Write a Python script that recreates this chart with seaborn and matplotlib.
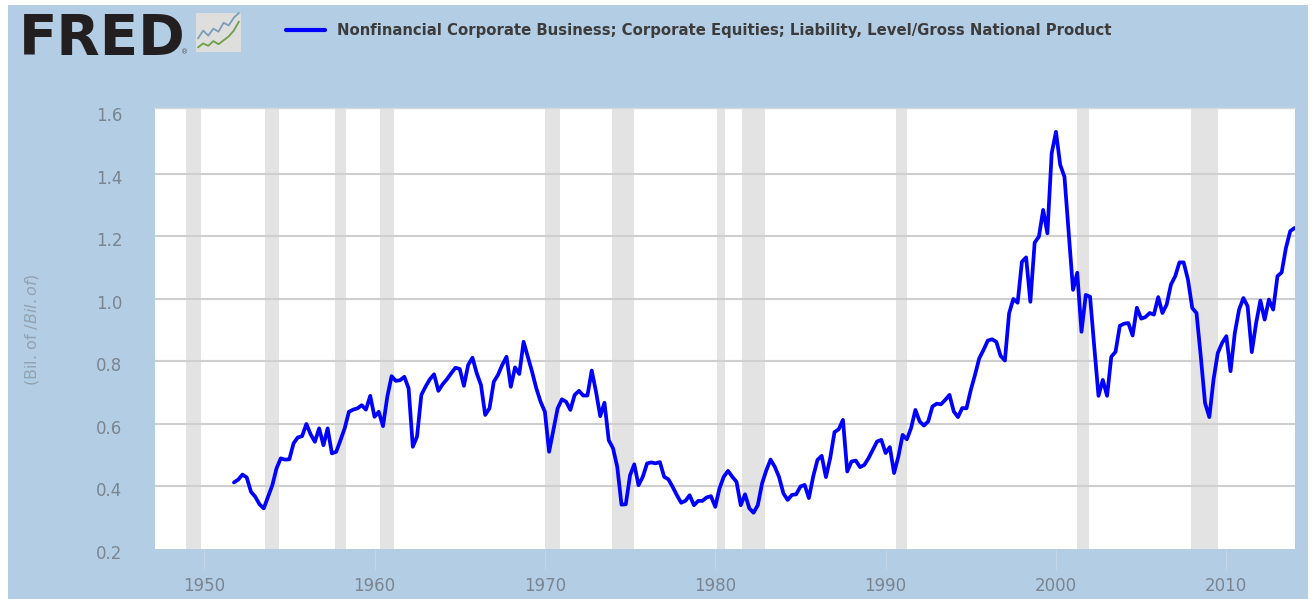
import pandas as pd
import seaborn as sns
import matplotlib.pyplot as plt
import matplotlib.dates as mdates
from matplotlib.patches import Rectangle, FancyBboxPatch
from matplotlib.transforms import ScaledTranslation

W, H = 1312, 599
PANEL = '#B3CDE5'
SHADE = '#E3E3E3'
GRID = '#CFCFCF'
TICK_TEXT = '#7A8590'

SERIES_NAME = 'Nonfinancial Corporate Business; Corporate Equities; Liability, Level/Gross National Product'
Y_LABEL = '(Bil. of $/Bil. of $)'
FIRST_QUARTER = '1951-10-01'

ratio = [
    .413, .422, .438, .429, .383, .367, .343, .330, .367, .404,
    .458, .490, .486, .487, .538, .557, .561, .600, .567, .543,
    .586, .532, .586, .506, .511, .548, .586, .639, .646, .650,
    .660, .646, .690, .623, .639, .593, .687, .753, .738, .740,
    .751, .714, .527, .560, .693, .720, .743, .759, .706, .727,
    .743, .762, .780, .776, .722, .789, .812, .762, .725, .629,
    .650, .735, .757, .789, .815, .719, .781, .760, .863, .815,
    .767, .714, .671, .639, .511, .581, .650, .679, .671, .645,
    .693, .706, .691, .691, .771, .703, .625, .668, .548, .522,
    .463, .342, .343, .436, .471, .404, .431, .474, .477, .474,
    .478, .431, .423, .399, .372, .348, .354, .372, .340, .354,
    .354, .365, .369, .335, .394, .431, .450, .431, .415, .340,
    .375, .330, .316, .340, .410, .452, .486, .463, .430, .378,
    .357, .373, .375, .400, .405, .363, .432, .485, .498, .430,
    .491, .574, .583, .613, .448, .480, .483, .462, .469, .491,
    .517, .544, .549, .507, .526, .443, .496, .565, .551, .587,
    .645, .608, .595, .608, .656, .665, .663, .677, .693, .640,
    .622, .651, .650, .709, .757, .810, .837, .867, .871, .863,
    .818, .803, .954, 1.000, .988, 1.119, 1.133, .991, 1.180, 1.200,
    1.285, 1.210, 1.466, 1.535, 1.429, 1.391, 1.210, 1.029, 1.084, .895,
    1.013, 1.007, .847, .690, .741, .690, .815, .831, .914, .921,
    .923, .883, .972, .937, .942, .955, .950, 1.006, .955, .982,
    1.046, 1.073, 1.117, 1.117, 1.062, .971, .955, .817, .667, .622,
    .742, .827, .859, .881, .769, .891, .966, 1.003, .977, .830,
    .923, .995, .934, .998, .966, 1.073, 1.085, 1.163, 1.217, 1.227,
]

recession_start = ['1948-12-01', '1953-08-01', '1957-09-01', '1960-05-01', '1970-01-01', '1973-12-01',
                   '1980-02-01', '1981-08-01', '1990-08-01', '2001-04-01', '2007-12-15']
recession_end = ['1949-10-31', '1954-05-31', '1958-04-30', '1961-02-28', '1970-11-30', '1975-03-31',
                 '1980-07-31', '1982-11-30', '1991-03-31', '2001-11-30', '2009-06-30']

y_ticks = [0.2, 0.4, 0.6, 0.8, 1.0, 1.2, 1.4, 1.6]
x_tick_years = [1950, 1960, 1970, 1980, 1990, 2000, 2010]

# small sparkline inside the logo icon
logo_x = [0, 1, 2, 3, 4, 5, 6, 7, 8]
logo_blue = [.35, .55, .42, .6, .52, .75, .68, .88, 1.0]
logo_green = [.12, .22, .16, .28, .2, .3, .4, .55, .78]

sns.set_style('white')
plt.rcParams['font.family'] = 'DejaVu Sans'


def ax_box(left, top, right, bottom):
    return [left / W, 1 - bottom / H, (right - left) / W, (bottom - top) / H]


fig = plt.figure(figsize=(W / 100, H / 100), dpi=100, facecolor='white')
fig.patches.append(Rectangle((7.5 / W, 0), 1300.5 / W, 1 - 5 / H, transform=fig.transFigure,
                             facecolor=PANEL, edgecolor='none', zorder=-1))

ax = fig.add_axes(ax_box(154.5, 108, 1294.5, 549))
df = pd.DataFrame({'date': pd.date_range(FIRST_QUARTER, periods=len(ratio), freq='QS'), 'ratio': ratio})

for start, end in zip(recession_start, recession_end):
    ax.axvspan(pd.Timestamp(start), pd.Timestamp(end), color=SHADE, lw=0, zorder=1)

sns.lineplot(data=df, x='date', y='ratio', color='#0000FF', linewidth=2.7, label=SERIES_NAME,
             errorbar=None, ax=ax, zorder=3)

ax.set_xlim(pd.Timestamp('1947-02-01'), pd.Timestamp('2014-01-01'))
ax.set_ylim(0.2, 1.611)
ax.set_yticks(y_ticks)
ax.set_yticklabels([f'{v:.1f}' for v in y_ticks])
ax.set_xticks([pd.Timestamp(f'{y}-01-01') for y in x_tick_years])
ax.xaxis.set_major_formatter(mdates.DateFormatter('%Y'))
ax.set_xlabel('')
ax.set_ylabel('')

ax.grid(axis='y', color=GRID, linewidth=1.5, zorder=2)
ax.set_axisbelow(False)
for line, v in zip(ax.yaxis.get_gridlines(), y_ticks):
    if v in (0.2, 1.6):
        line.set_visible(False)

for side in ['left', 'right', 'bottom']:
    ax.spines[side].set_visible(False)
ax.spines['top'].set_color('#D8D8D8')
ax.spines['top'].set_linewidth(1.0)

ax.tick_params(axis='y', length=0, pad=23, labelsize=12, labelcolor=TICK_TEXT)
ax.tick_params(axis='x', length=15, width=0.8, color='#C4D6E8', pad=5, labelsize=12, labelcolor=TICK_TEXT, bottom=True)
for label in ax.get_yticklabels():
    label.set_transform(label.get_transform() + ScaledTranslation(0, -3 / 100, fig.dpi_scale_trans))

fig.text(32 / W, 1 - 330 / H, Y_LABEL, rotation=90, ha='center', va='center', fontsize=11.5, color='#93A2B0')

leg = ax.legend(loc='center left', bbox_to_anchor=(286 / W, 1 - 31 / H), bbox_transform=fig.transFigure,
                frameon=False, handlelength=2.6, handletextpad=0.85, borderpad=0, borderaxespad=0,
                prop={'weight': 'bold', 'size': 10.7})
leg.get_texts()[0].set_color('#3C3C3C')
leg.get_lines()[0].set_linewidth(3.0)

# FRED logo
fig.text(19 / W, 1 - 54 / H, 'FRED', fontsize=40.5, fontweight='heavy', color='#231F20', ha='left', va='baseline')
fig.text(181 / W, 1 - 54 / H, '®', fontsize=5, color='#555555', ha='left', va='baseline')

icon = fig.add_axes(ax_box(195, 11, 242, 54))
icon.set_axis_off()
icon.set_xlim(-0.6, 8.6)
icon.set_ylim(-0.05, 1.05)
icon.add_patch(FancyBboxPatch((-0.4, 0), 8.8, 1.0, boxstyle='round,pad=0,rounding_size=0.08', mutation_aspect=0.12,
                              facecolor='#DEDEDC', edgecolor='none'))
sns.lineplot(x=logo_x, y=logo_blue, color='#7A9DB8', linewidth=1.3, ax=icon, errorbar=None)
sns.lineplot(x=logo_x, y=logo_green, color='#6E9E4A', linewidth=1.3, ax=icon, errorbar=None)

fig.savefig('out.png', dpi=100, facecolor='white')
